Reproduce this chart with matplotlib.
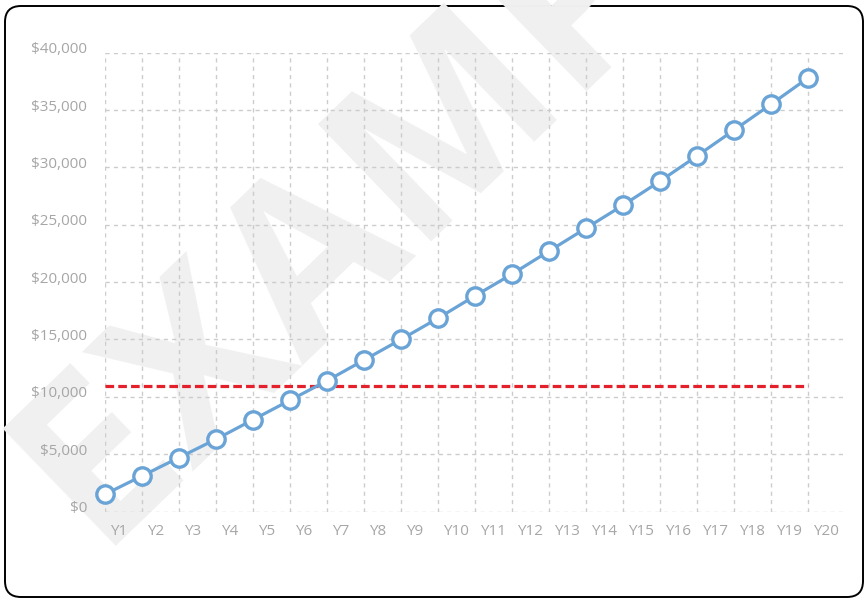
import matplotlib
matplotlib.use("Agg")
import matplotlib.pyplot as plt
from matplotlib.patches import FancyBboxPatch
import matplotlib.transforms as mtransforms

plt.rcParams['font.family'] = ['Open Sans', 'DejaVu Sans']

years = [f"Y{i}" for i in range(1, 21)]
values = [1500, 3100, 4700, 6300, 8000, 9700, 11400, 13200, 15000, 16850,
          18800, 20700, 22700, 24700, 26700, 28800, 31000, 33250, 35500, 37800]
threshold = 10900
y_ticks = list(range(0, 40001, 5000))
y_labels = [f"${v:,}" for v in y_ticks]

W, H = 864, 598
fig = plt.figure(figsize=(W / 100, H / 100), dpi=100)

# background layer: border + watermark
bg = fig.add_axes([0, 0, 1, 1], zorder=0)
bg.set_xlim(0, W)
bg.set_ylim(H, 0)
bg.axis('off')
border = FancyBboxPatch((5, 6), 858, 591,
                        boxstyle="round,pad=0,rounding_size=16",
                        fill=False, edgecolor='black', linewidth=1.4,
                        clip_on=False)
bg.add_patch(border)
bg.text(434, 136, "EXAMPLE", fontsize=165, fontweight='bold',
        color='#f0f0f0', rotation=44, ha='center', va='center',
        rotation_mode='anchor')

ax = fig.add_axes([105 / W, 1 - 511.5 / H, 740 / W, (511.5 - 52.7) / H], zorder=1)
ax.patch.set_alpha(0)

x = list(range(len(years)))
ax.plot(x, values, color='#6aa3d6', linewidth=2.3, marker='o',
        markersize=12.5, markerfacecolor='white', markeredgecolor='#6aa3d6',
        markeredgewidth=2.4, zorder=4, clip_on=False)
ax.plot([x[0], x[-1]], [threshold, threshold], color='#e3202b', linewidth=2.3,
        dashes=(2.7, 1.3), zorder=3, clip_on=False)

ax.set_xlim(0, 20)
ax.set_ylim(0, 40000)
ax.set_yticks(y_ticks)
ax.set_yticklabels(y_labels)
ax.set_xticks(x)
ax.set_xticklabels(years, ha='left')

for s in ax.spines.values():
    s.set_visible(False)
ax.tick_params(axis='both', length=0, colors='#a6a6a6', labelsize=11)
ax.tick_params(axis='y', pad=13)
ax.tick_params(axis='x', pad=9)

offx = mtransforms.ScaledTranslation(5 / 100, 0, fig.dpi_scale_trans)
for lab in ax.get_xticklabels():
    lab.set_transform(lab.get_transform() + offx)
offy = mtransforms.ScaledTranslation(0, 5 / 100, fig.dpi_scale_trans)
for lab in ax.get_yticklabels():
    lab.set_transform(lab.get_transform() + offy)

ax.grid(True, color='#cccccc', linewidth=1.0, linestyle=(0, (3, 3)))
ax.set_axisbelow(True)

fig.savefig("out.png", dpi=100)
